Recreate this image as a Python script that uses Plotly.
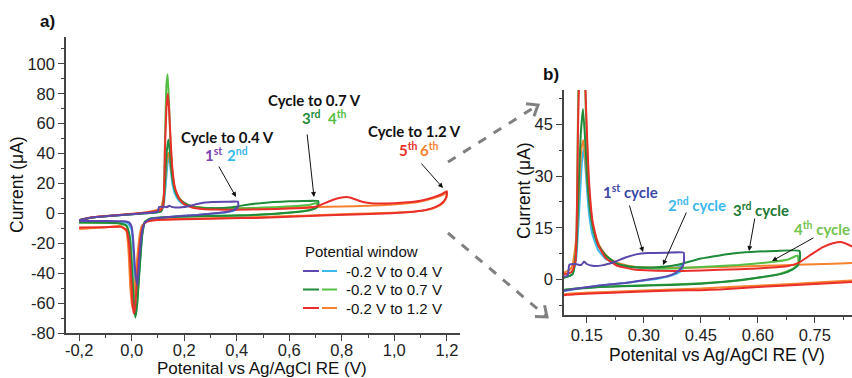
import math
import plotly.graph_objects as go

W, H = 852, 378

# ---------------- data (potential V, current uA) ----------------
# 1st cycle (to 0.4 V)
c1_v = [-0.2, -0.15, -0.1, -0.05, 0.0, 0.05, 0.09, 0.1, 0.104, 0.12, 0.135, 0.143, 0.15, 0.165, 0.19, 0.22, 0.25, 0.28, 0.31, 0.36, 0.405,
        0.406, 0.405, 0.398, 0.385, 0.36, 0.33, 0.3, 0.25, 0.185, 0.12, 0.097, 0.07, 0.05, 0.04, 0.03, 0.022, 0.014, 0.006, 0.0, -0.01, -0.03, -0.1, -0.2]
c1_i = [-4.5, -2.8, -1.9, -1.2, -0.5, 0.2, 0.8, 1.2, 4.3, 4.5, 4.2, 5.2, 4.5, 4.0, 4.1, 5.0, 6.3, 7.3, 7.7, 7.8, 7.8,
        6.0, 4.6, 3.2, 2.0, 0.9, 0.3, -0.2, -1.0, -1.7, -2.7, -3.1, -3.8, -6, -12, -28, -48, -40, -18, -9, -6, -5.2, -5, -5]
# 2nd cycle (to 0.4 V)
c2_v = [-0.2, -0.15, -0.1, -0.05, 0.0, 0.05, 0.09, 0.112, 0.122, 0.13, 0.137, 0.142, 0.148, 0.155, 0.165, 0.18, 0.2, 0.23, 0.27, 0.32, 0.36, 0.39, 0.402,
        0.403, 0.395, 0.375, 0.34, 0.3, 0.25, 0.185, 0.12, 0.097, 0.07, 0.05, 0.04, 0.03, 0.02, 0.013, 0.007, 0.0, -0.015, -0.05, -0.1, -0.2]
c2_i = [-4.5, -2.8, -1.9, -1.2, -0.5, 0.1, 0.6, 1.5, 6, 20, 34, 38, 30, 20, 13, 8.5, 6, 4.5, 3.6, 3.2, 3.3, 3.6, 4.2,
        3.2, 2.2, 1.2, 0.3, -0.3, -1.0, -1.7, -2.8, -3.2, -3.8, -6, -14, -36, -55, -50, -28, -11, -6.5, -5.5, -5.2, -5]
# 3rd cycle (to 0.7 V)
c3_v = [-0.2, -0.15, -0.1, -0.05, 0.0, 0.05, 0.09, 0.112, 0.122, 0.128, 0.134, 0.14, 0.146, 0.152, 0.16, 0.17, 0.18, 0.2, 0.23, 0.27, 0.32, 0.37, 0.4, 0.45, 0.5, 0.54, 0.6, 0.65, 0.71,
        0.711, 0.705, 0.69, 0.665, 0.63, 0.55, 0.45, 0.3, 0.185, 0.12, 0.097, 0.07, 0.05, 0.04, 0.03, 0.02, 0.014, 0.008, 0.0, -0.008, -0.02, -0.05, -0.1, -0.2]
c3_i = [-4.5, -2.8, -1.9, -1.2, -0.5, 0.1, 0.6, 1.5, 8, 25, 42, 49.5, 40, 28, 19, 13, 10, 7, 4.5, 3.6, 3.5, 3.9, 4.6, 6.1, 7.0, 7.6, 8.1, 8.3, 8.3,
        6.0, 4.0, 2.8, 1.7, 1.0, -0.2, -1.2, -1.8, -2.2, -2.7, -2.9, -3.6, -6, -15, -38, -62, -69.6, -60, -35, -15, -8, -6.5, -6.2, -6]
# 4th cycle (to 0.7 V)
c4_v = [-0.2, -0.15, -0.1, -0.05, 0.0, 0.05, 0.09, 0.112, 0.122, 0.127, 0.132, 0.137, 0.142, 0.147, 0.155, 0.165, 0.18, 0.2, 0.23, 0.27, 0.32, 0.4, 0.45, 0.55, 0.63, 0.68, 0.705,
        0.707, 0.695, 0.675, 0.64, 0.55, 0.45, 0.3, 0.185, 0.12, 0.097, 0.07, 0.05, 0.04, 0.03, 0.022, 0.016, 0.01, 0.003, -0.005, -0.02, -0.05, -0.1, -0.2]
c4_i = [-4.5, -2.8, -1.9, -1.2, -0.5, 0.1, 0.6, 1.5, 10, 50, 85, 93, 75, 50, 28, 16, 10, 6.5, 4.6, 3.7, 3.3, 3.3, 3.6, 4.2, 5.0, 5.8, 7.0,
        5.0, 3.3, 2.3, 1.2, -0.3, -1.1, -1.7, -2.1, -2.6, -2.9, -3.5, -5.5, -13, -35, -58, -68, -62, -40, -18, -8.5, -6.8, -6.3, -6.2]
# 5th cycle (to 1.2 V)
c5_v = [-0.2, -0.15, -0.1, -0.05, 0.0, 0.05, 0.09, 0.11, 0.12, 0.127, 0.133, 0.138, 0.143, 0.148, 0.155, 0.165, 0.18, 0.2, 0.23, 0.27, 0.32, 0.4, 0.5, 0.6, 0.68, 0.71, 0.74, 0.77, 0.8, 0.82, 0.85, 0.88, 0.92, 1.0, 1.05, 1.1, 1.15, 1.18, 1.2,
        1.198, 1.185, 1.16, 1.12, 1.05, 0.96, 0.85, 0.7, 0.6, 0.5, 0.45, 0.38, 0.3, 0.2, 0.12, 0.1, 0.07, 0.05, 0.04, 0.03, 0.02, 0.013, 0.008, 0.003, -0.003, -0.01, -0.02, -0.04, -0.1, -0.2]
c5_i = [-4.5, -2.6, -1.7, -1.0, -0.3, 0.4, 1.5, 2.2, 5, 45, 72, 80, 68, 50, 30, 17, 10, 6.2, 4.0, 3.0, 2.6, 2.5, 2.8, 3.2, 3.9, 5.0, 7.2, 9.3, 10.6, 10.9, 9.5, 7.6, 6.7, 6.8, 7.4, 8.5, 10.8, 12.8, 14.8,
        11, 7.5, 4.5, 2.3, 0.8, -0.1, -0.7, -1.6, -2.2, -2.9, -3.1, -3.2, -3.5, -3.9, -4.3, -4.4, -5, -6.5, -10, -22, -45, -63, -67, -60, -40, -20, -11, -9, -9.2, -9.5]
# 6th cycle (to 1.2 V)
c6_v = [-0.2, -0.15, -0.1, -0.05, 0.0, 0.05, 0.09, 0.105, 0.112, 0.118, 0.124, 0.13, 0.136, 0.141, 0.147, 0.155, 0.165, 0.175, 0.19, 0.21, 0.24, 0.28, 0.35, 0.45, 0.55, 0.65, 0.75, 0.85, 0.95, 1.05, 1.1, 1.15, 1.18, 1.2,
        1.198, 1.185, 1.16, 1.12, 1.05, 0.96, 0.85, 0.7, 0.6, 0.45, 0.3, 0.2, 0.12, 0.097, 0.07, 0.06, 0.04, 0.03, 0.02, 0.01, 0.002, -0.005, -0.012, -0.02, -0.04, -0.1, -0.2]
c6_i = [-4.8, -2.8, -1.9, -1.1, -0.4, 0.6, 2.0, 2.8, 4, 8, 14, 28, 38, 40.4, 34, 24, 16, 12, 8.5, 6, 4.5, 3.6, 3.4, 3.5, 3.8, 4.1, 4.4, 4.8, 5.5, 6.8, 8, 10.2, 12, 14,
        10.5, 7, 4.2, 2.2, 0.9, 0.2, -0.3, -1.2, -1.8, -2.6, -3.2, -3.6, -4.0, -4.2, -4.6, -5, -8, -15, -32, -52, -63, -50, -25, -12, -8.5, -9.3, -10.5]

cycle_colors = {
    "1st": "#5b47ad", "2nd": "#3cb9ec", "3rd": "#1f8b3b",
    "4th": "#56bd45", "5th": "#ea2f2a", "6th": "#f6822f",
}

a_xticks = [-0.2, 0.0, 0.2, 0.4, 0.6, 0.8, 1.0, 1.2]
a_xlabels = ["-0,2", "0,0", "0,2", "0,4", "0,6", "0,8", "1,0", "1,2"]
a_yticks = [-80, -60, -40, -20, 0, 20, 40, 60, 80, 100]
a_ylabels = ["-80", "-60", "-40", "-20", "0", "20", "40", "60", "80", "100"]
b_xticks = [0.15, 0.30, 0.45, 0.60, 0.75]
b_xlabels = ["0.15", "0.30", "0.45", "0.60", "0.75"]
b_yticks = [0, 15, 30, 45]
b_ylabels = ["0", "15", "30", "45"]

legend_rows = [("-0.2 V to 0.4 V", "1st", "2nd"),
               ("-0.2 V to 0.7 V", "3rd", "4th"),
               ("-0.2 V to 1.2 V", "5th", "6th")]

# ---------------- figure ----------------
fig = go.Figure()
series = [(c2_v, c2_i, "2nd"), (c6_v, c6_i, "6th"), (c4_v, c4_i, "4th"),
          (c3_v, c3_i, "3rd"), (c5_v, c5_i, "5th"), (c1_v, c1_i, "1st")]
for xa, ya in (("x", "y"), ("x2", "y2")):
    for v, i, name in series:
        fig.add_trace(go.Scatter(x=v, y=i, mode="lines", name=name, xaxis=xa, yaxis=ya,
                                 line=dict(color=cycle_colors[name], width=2, shape="spline", smoothing=0.4),
                                 showlegend=False, hoverinfo="skip"))

def PX(x):
    return x / W

def PY(y):
    return 1 - y / H

tickfont = dict(family="Liberation Sans, Arial", size=16.5, color="#222")
axis_common = dict(showline=True, linecolor="#444", linewidth=1.5, ticks="outside", ticklen=6,
                   tickcolor="#444", tickwidth=1.3, showgrid=False, zeroline=False, tickfont=tickfont,
                   automargin=False)

fig.update_layout(
    width=W, height=H, autosize=False,
    margin=dict(l=0, r=0, t=0, b=0),
    paper_bgcolor="white", plot_bgcolor="white",
    xaxis=dict(domain=[66 / W, 460 / W], range=[-0.25, 1.25], anchor="y",
               tickvals=a_xticks, ticktext=a_xlabels, ticklabelstandoff=-5,
               minor=dict(ticks="outside", ticklen=3, tickcolor="#444", dtick=0.1, tick0=0), **axis_common),
    yaxis=dict(domain=[PY(333), PY(37)], range=[-80, 118], anchor="x",
               tickvals=a_yticks, ticktext=a_ylabels,
               minor=dict(ticks="outside", ticklen=3, tickcolor="#444", dtick=10, tick0=0), **axis_common),
    xaxis2=dict(domain=[564 / W, 1.0], range=[0.09, 0.848], anchor="y2",
                tickvals=b_xticks, ticktext=b_xlabels, ticklabelstandoff=-2,
                minor=dict(ticks="outside", ticklen=3, tickcolor="#444", dtick=0.075, tick0=0.15), **axis_common),
    yaxis2=dict(domain=[PY(315), PY(90)], range=[-10.3, 55], anchor="x2",
                tickvals=b_yticks, ticktext=b_ylabels,
                minor=dict(ticks="outside", ticklen=3, tickcolor="#444", dtick=7.5, tick0=0), **axis_common),
)

ann = []
def text(x, y, t, size=14, color="#111", family="Lato", bold=False, angle=0, xanchor="center"):
    if bold:
        t = "<b>" + t + "</b>"
    ann.append(dict(x=PX(x), y=PY(y), xref="paper", yref="paper", text=t, showarrow=False,
                    xanchor=xanchor, yanchor="middle", textangle=angle,
                    font=dict(family=family, size=size, color=color)))

def arrow(x0, y0, x1, y1, color="#111"):
    ann.append(dict(x=PX(x1), y=PY(y1), xref="paper", yref="paper", text="", showarrow=True,
                    ax=x0 - x1, ay=y0 - y1, axref="pixel", ayref="pixel",
                    arrowhead=2, arrowsize=1, arrowwidth=1, arrowcolor=color))

AR = "Liberation Sans, Arial"
# axis titles
text(17, 185, "Current (μA)", size=17.5, family=AR, angle=-90)
text(262, 368.5, "Potenital vs Ag/AgCl RE (V)", size=17, family=AR)
text(524, 191, "Current (μA)", size=17.5, family=AR, angle=-90)
text(717, 355, "Potenital vs Ag/AgCl RE (V)", size=17.5, family=AR)
# panel labels
text(47, 22, "a)", size=17, family=AR, bold=True)
text(551, 74, "b)", size=17, family=AR, bold=True)

# panel a annotations
text(227, 137, "Cycle to 0.4 V", size=15, bold=True)
text(213, 155, "1<sup>st</sup>", size=15, bold=True, color="#7b45b0")
text(238, 155, "2<sup>nd</sup>", size=15, bold=True, color=cycle_colors["2nd"])
arrow(218, 165, 236, 197)
text(314, 100, "Cycle to 0.7 V", size=15, bold=True)
text(311, 118, "3<sup>rd</sup>", size=15, bold=True, color=cycle_colors["3rd"])
text(337, 118, "4<sup>th</sup>", size=15, bold=True, color=cycle_colors["4th"])
arrow(307, 133, 314, 197)
text(414, 131, "Cycle to 1.2 V", size=15, bold=True)
text(408, 149, "5<sup>th</sup>", size=15, bold=True, color=cycle_colors["5th"])
text(430, 149, "6<sup>th</sup>", size=15, bold=True, color=cycle_colors["6th"])
arrow(420, 162, 443, 188)

# panel b annotations
text(630, 191, "1<sup>st</sup> cycle", size=15, bold=True, color="#3d4aa6")
arrow(629, 204, 643, 252)
text(697, 204, "2<sup>nd</sup> cycle", size=15, bold=True, color=cycle_colors["2nd"])
arrow(687, 211, 663, 265)
text(761, 209, "3<sup>rd</sup> cycle", size=15, bold=True, color="#1e7a35")
arrow(755, 217, 749, 251)
text(822, 228, "4<sup>th</sup> cycle", size=15, bold=True, color="#74c450")
arrow(815, 237, 772, 261)

# legend (manual)
text(303, 251, "Potential window", size=15, family=AR, xanchor="left")
shapes = []
for k, (label, ca, cb) in enumerate(legend_rows):
    yy = [271, 289.5, 308][k]
    shapes.append(dict(type="line", xref="paper", yref="paper", x0=PX(303), x1=PX(319), y0=PY(yy), y1=PY(yy),
                       line=dict(color=cycle_colors[ca], width=2)))
    shapes.append(dict(type="line", xref="paper", yref="paper", x0=PX(322), x1=PX(337), y0=PY(yy), y1=PY(yy),
                       line=dict(color=cycle_colors[cb], width=2)))
    text(344, yy, label, size=15, family=AR, xanchor="left")

# dashed grey arrows linking panels
def dashed_arrow(x0, y0, x1, y1):
    shapes.append(dict(type="line", xref="paper", yref="paper", x0=PX(x0), y0=PY(y0), x1=PX(x1), y1=PY(y1),
                       line=dict(color="#808080", width=3, dash="dash")))
    d = math.hypot(x1 - x0, y1 - y0)
    ux, uy = (x1 - x0) / d, (y1 - y0) / d
    L, ang = 12, math.radians(38)
    pts = []
    for s in (1, -1):
        c, sn = math.cos(s * ang), math.sin(s * ang)
        bx, by = -(ux * c - uy * sn), -(ux * sn + uy * c)
        pts.append((x1 + L * bx, y1 + L * by))
    path = "M {},{} L {},{} L {},{}".format(PX(pts[0][0]), PY(pts[0][1]), PX(x1), PY(y1), PX(pts[1][0]), PY(pts[1][1]))
    shapes.append(dict(type="path", xref="paper", yref="paper", path=path,
                       line=dict(color="#808080", width=3)))

dashed_arrow(448, 162, 538, 105)
dashed_arrow(448, 233, 547, 317)

fig.update_layout(annotations=ann, shapes=shapes)
fig.write_html("out.html", config={"displayModeBar": False},
               post_script="document.body.style.margin='0';document.body.style.padding='0';")
